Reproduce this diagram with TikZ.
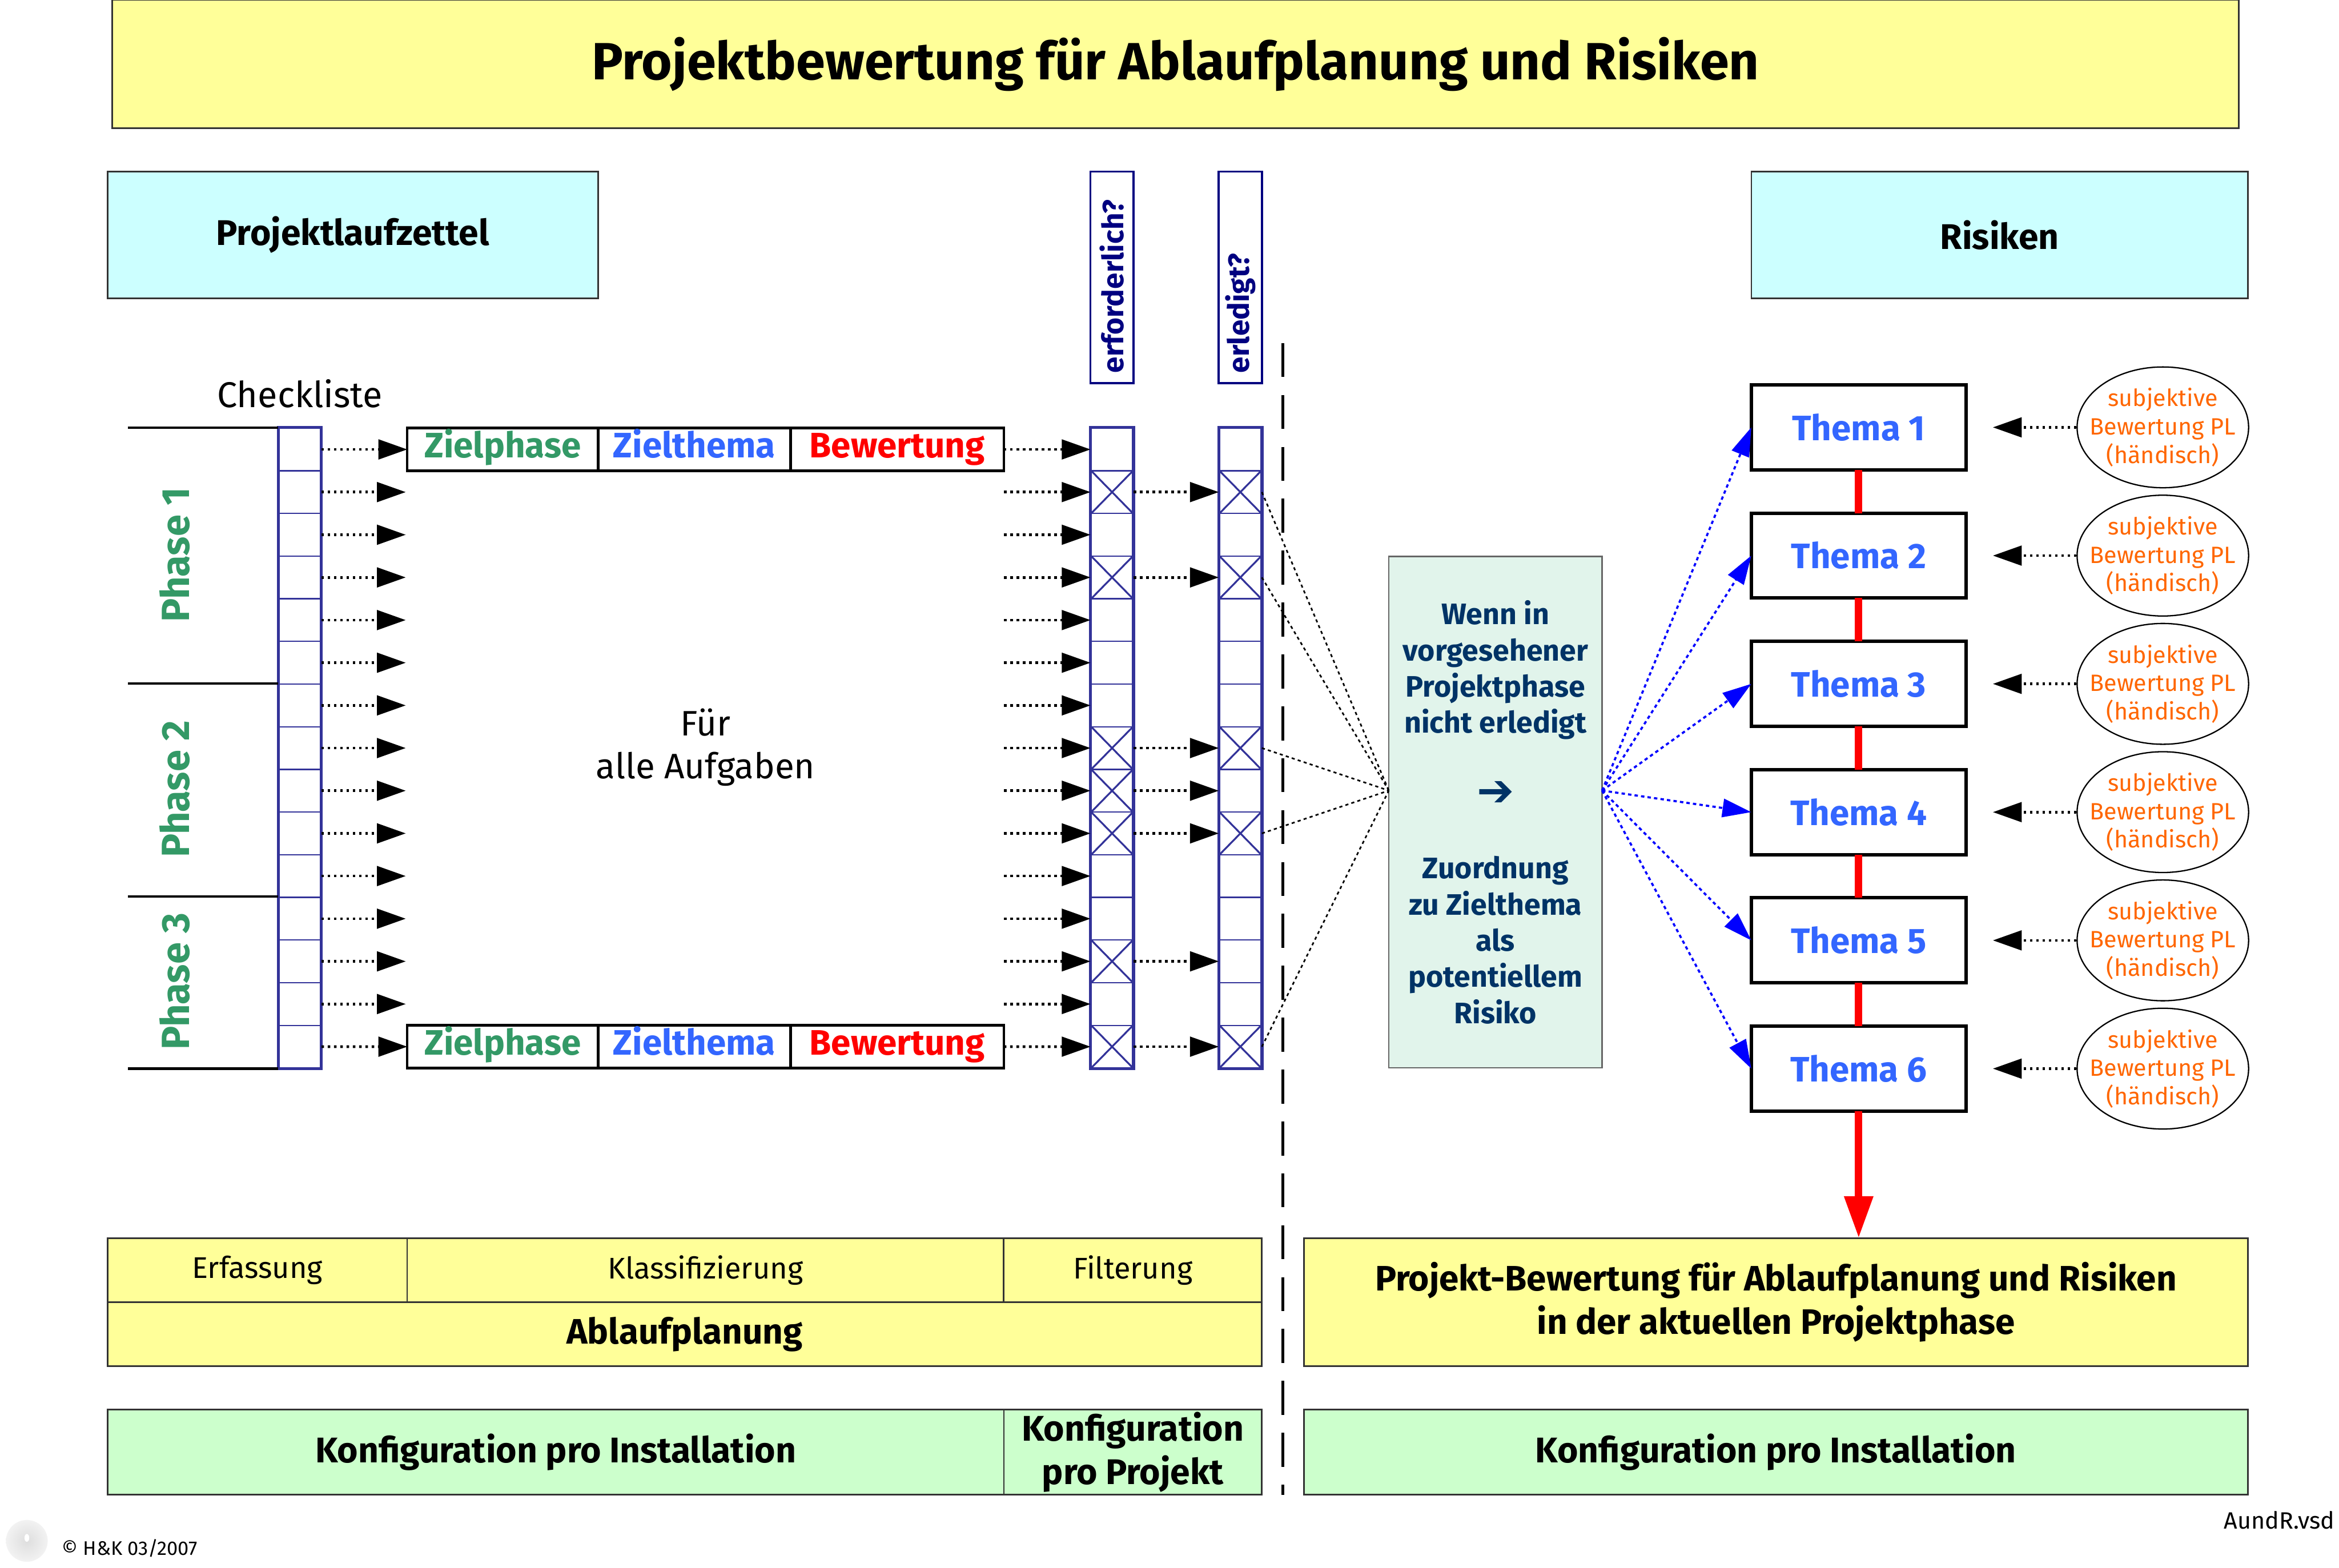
\documentclass[tikz,border=0pt]{standalone}
\usepackage{fontspec}
\setmainfont{Fira Sans}
\newfontfamily\symfont{DejaVu Sans}
\usepackage{xcolor}
\usetikzlibrary{arrows.meta, positioning, calc, shapes.geometric}

\definecolor{hkyellow}{HTML}{FFFF99}
\definecolor{hkcyan}{HTML}{CCFFFF}
\definecolor{hkgreen}{HTML}{CCFFCC}
\definecolor{hkmint}{HTML}{E1F4EB}
\definecolor{hknavy}{HTML}{000080}
\definecolor{hkcell}{HTML}{333399}
\definecolor{hkgrtext}{HTML}{339966}
\definecolor{hkbltext}{HTML}{3366FF}
\definecolor{hkorange}{HTML}{FF6600}
\definecolor{hkdark}{HTML}{003366}
\newcommand{\hksize}[2]{\fontsize{#1}{#2}\selectfont}

\begin{document}
\begin{tikzpicture}[
  x=0.02cm, y=-0.02cm,
  box/.style={draw=black!80, line width=0.6pt, align=center, inner sep=2pt,
              outer sep=0pt},
  band/.style={box, fill=hkyellow},
  head/.style={box, fill=hkcyan, minimum height=1.7cm,
               font=\bfseries\hksize{13.6pt}{16pt}},
  conf/.style={box, fill=hkgreen, minimum height=1.14cm, inner ysep=0pt,
               font=\bfseries\hksize{13.6pt}{16.4pt}},
  qhead/.style={draw=hknavy, line width=0.8pt, rotate=90,
                minimum width=2.84cm, minimum height=0.58cm,
                inner xsep=0.14cm, inner ysep=0pt, text width=2.56cm,
                align=left, text=hknavy, font=\bfseries\hksize{11.2pt}{13pt}},
  cell/.style={draw=hkcell, line width=0.5pt, minimum width=0.56cm,
               minimum height=0.572cm, inner sep=0pt},
  field/.style={draw, line width=1pt, minimum height=0.572cm, inner sep=0pt,
                outer sep=0pt, text height=9.6pt, text depth=3.2pt,
                font=\bfseries\hksize{13.5pt}{16pt}},
  phase/.style={rotate=90, text=hkgrtext, font=\bfseries\hksize{15pt}{17pt}},
  thema/.style={draw, line width=1.3pt, fill=white, minimum width=2.88cm,
                minimum height=1.14cm, outer sep=0pt, text=hkbltext,
                font=\bfseries\hksize{13.5pt}{16pt}},
  bew/.style={ellipse, draw, line width=0.5pt, fill=white,
              minimum width=2.3cm, minimum height=1.62cm, inner sep=0pt},
  bewtext/.style={text=hkorange, align=center, font=\hksize{9pt}{10.8pt}},
  dotarr/.style={line width=1pt, dash pattern=on 1pt off 1.4pt,
                 -{Triangle[length=11pt, width=7.5pt]}},
  fan/.style={line width=0.6pt, dash pattern=on 1.2pt off 1.2pt},
  bluearr/.style={draw=blue, line width=0.8pt, dash pattern=on 1.3pt off 1.2pt,
                  -{Triangle[length=11pt, width=7pt]}},
  redline/.style={draw=red, line width=2.8pt},
  redarr/.style={redline, -{Triangle[length=16pt, width=10.5pt]}},
  sep/.style={line width=0.9pt, dash pattern=on 13pt off 6.8pt},
]
\useasboundingbox (0,0) rectangle (1568,1051);

% Title and headers
\node[band, minimum width=28.52cm, minimum height=1.72cm,
      font=\bfseries\hksize{20pt}{24pt}] (title) at (788,43)
  {Projektbewertung für Ablaufplanung und Risiken};
\node[head, minimum width=6.58cm] (plz) at (236.5,157.5) {Projektlaufzettel};
\node[head, minimum width=6.66cm] (ris) at (1340.5,157.5) {Risiken};
\node[qhead] (qerf) at (745.5,186) {erforderlich?};
\node[qhead] (qerl) at (831.5,186) {erledigt?};

% Checklist and columns
\node[font=\hksize{13.7pt}{16pt}] (chk) at (201,264) {Checkliste};
\foreach \i in {1,...,15}{
  \node[cell] (c\i) at (201,{272.7+28.6*\i}) {};
  \node[cell] (e\i) at (745.5,{272.7+28.6*\i}) {};
  \node[cell] (d\i) at (831.5,{272.7+28.6*\i}) {};
}
\draw[hkcell, line width=1pt] (c1.north west) rectangle (c15.south east);
\draw[hkcell, line width=1.2pt] (e1.north west) rectangle (e15.south east);
\draw[hkcell, line width=1.2pt] (d1.north west) rectangle (d15.south east);
\foreach \i in {2,4,8,9,10,13,15}{
  \draw[hkcell, line width=0.7pt] (e\i.north west) -- (e\i.south east)
    (e\i.north east) -- (e\i.south west);
  \draw[dotarr] (e\i) -- (d\i);
}
\foreach \i in {2,4,8,10,15}
  \draw[hkcell, line width=0.7pt] (d\i.north west) -- (d\i.south east)
    (d\i.north east) -- (d\i.south west);

% Phases
\foreach \r in {1,7,12}
  \draw[line width=0.9pt] (c\r.north west) -- +(-101,0);
\draw[line width=0.9pt] (c15.south west) -- +(-101,0);
\node[phase] (ph1) at (117,372) {Phase 1};
\node[phase] (ph2) at (117,529) {Phase 2};
\node[phase] (ph3) at (117,658) {Phase 3};

% Target fields (first and last task)
\node[field, minimum width=2.56cm, text=hkgrtext] (zp1) at (337,301.3) {Zielphase};
\node[field, minimum width=2.58cm, text=hkbltext, right=0pt of zp1] (zt1) {Zielthema};
\node[field, minimum width=2.86cm, text=red, right=0pt of zt1] (bw1) {Bewertung};
\node[field, minimum width=2.56cm, text=hkgrtext] (zp15) at (337,701.7) {Zielphase};
\node[field, minimum width=2.58cm, text=hkbltext, right=0pt of zp15] (zt15) {Zielthema};
\node[field, minimum width=2.86cm, text=red, right=0pt of zt15] (bw15) {Bewertung};
\node[align=center, font=\hksize{13.5pt}{16.4pt}] (alle) at (473,501)
  {Für\\alle Aufgaben};

\draw[dotarr] (c1) -- (zp1);
\draw[dotarr] (bw1) -- (e1);
\draw[dotarr] (c15) -- (zp15);
\draw[dotarr] (bw15) -- (e15);
\foreach \i in {2,...,14}{
  \coordinate (a\i) at (272,{272.7+28.6*\i});
  \coordinate (b\i) at (673,{272.7+28.6*\i});
  \draw[dotarr] (c\i) -- (a\i);
  \draw[dotarr] (b\i) -- (e\i);
}

% Separator
\draw[sep] (860,230) -- (860,1002);

% Rule box
\node[box, fill=hkmint, draw=black!60, line width=0.5pt, minimum width=2.86cm,
      minimum height=6.86cm, text=hkdark, font=\bfseries\hksize{11.3pt}{13.8pt}]
  (wenn) at (1002.5,544.5)
  {Wenn in\\vorgesehener\\Projektphase\\nicht erledigt\\[14pt]
   {\symfont\hksize{17pt}{14pt}➔}\\[14pt]Zuordnung\\zu Zielthema\\als\\potentiellem\\Risiko};
\coordinate (mid) at (1003,530);
\coordinate (win) at (wenn.west |- mid);
\coordinate (wout) at (wenn.east |- mid);
\foreach \i in {2,4,8,10,15}
  \draw[fan] (d\i.east) -- (win);

% Risk topics
\node[thema] (t1) at (1246,286.5) {Thema 1};
\foreach \i [count=\j from 2] in {1,...,5}
  \node[thema, below=0.58cm of t\i] (t\j) {Thema \j};
\foreach \i in {1,...,6}{
  \node[bew, right=1.48cm of t\i,
        label={[bewtext]center:subjektive\\Bewertung PL\\(händisch)}] (r\i) {};
  \draw[dotarr, shorten >=0.36cm] (r\i) -- (t\i);
  \draw[bluearr] (wout) -- (t\i.west);
}
\foreach \i [count=\j from 2] in {1,...,5}
  \draw[redline] (t\i) -- (t\j);

% Bottom bands
\node[band, minimum width=4.02cm, minimum height=0.86cm,
      font=\hksize{11.4pt}{13pt}] (erf) at (172.5,851.5) {Erfassung};
\node[band, minimum width=8cm, minimum height=0.86cm,
      font=\hksize{11.4pt}{13pt}, right=0pt of erf] (kla) {Klassifizierung};
\node[band, minimum width=3.46cm, minimum height=0.86cm,
      font=\hksize{11.4pt}{13pt}, right=0pt of kla] (fil) {Filterung};
\node[band, minimum width=15.48cm, minimum height=0.86cm,
      font=\bfseries\hksize{13.5pt}{15pt}] (abl) at (459,894.5) {Ablaufplanung};
\node[band, minimum width=12.66cm, minimum height=1.72cm,
      font=\bfseries\hksize{13.5pt}{16.5pt}] (pb) at (1190.5,873)
  {Projekt-Bewertung für Ablaufplanung und Risiken\\in der aktuellen Projektphase};
\draw[redarr] (t6.south) -- (t6.south |- pb.north);

\node[conf, minimum width=12.02cm] (kpi) at (372.5,973.5) {Konfiguration pro Installation};
\node[conf, minimum width=3.46cm, right=0pt of kpi] (kpp) {Konfiguration\\pro Projekt};
\node[conf, minimum width=12.66cm] (kpr) at (1190.5,973.5) {Konfiguration pro Installation};

% Footer
\shade[inner color=black!13, outer color=black!5] (18,1033) circle (14);
\fill[white] (18,1031) ellipse (1.6 and 2.6);
\node[font=\hksize{7.5pt}{9pt}] (copy) at (87,1038) {© H\&K 03/2007};
\node[font=\hksize{9pt}{11pt}] (file) at (1528,1019) {AundR.vsd};
\end{tikzpicture}
\end{document}
